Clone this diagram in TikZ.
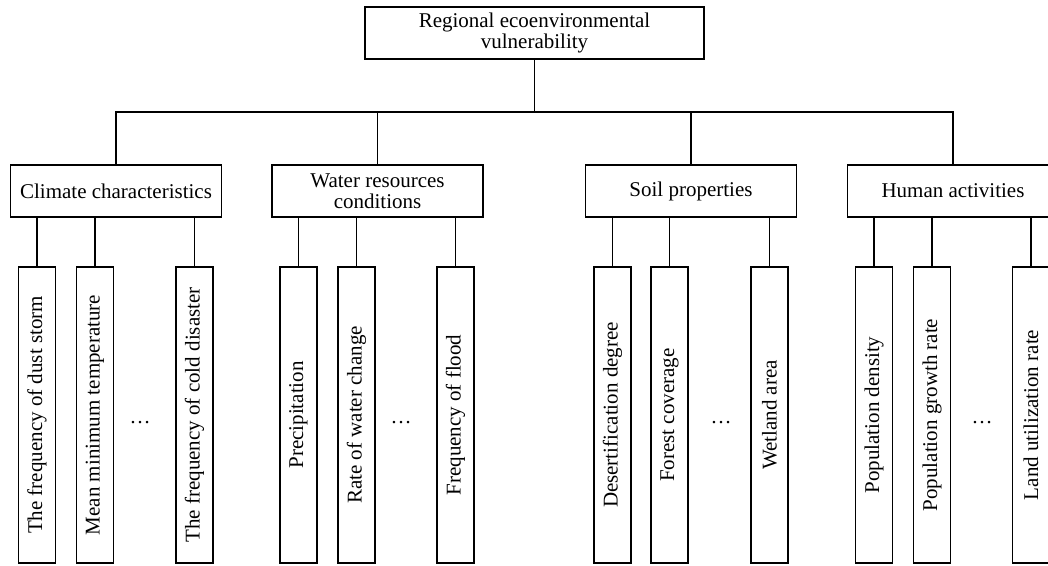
\documentclass[tikz,border=0pt]{standalone}
\usepackage{fontspec}
\setmainfont{Liberation Serif}
\usepackage{tkz-graph}

\tikzset{box/.style={draw, rectangle, line width=1.2pt, inner sep=0pt,
                     align=center, font=\fontsize{21}{21.5}\selectfont}}

\begin{document}
\begin{tikzpicture}[x=1pt,y=1pt]
 \useasboundingbox (0,0) rectangle (1048,565);
 \clip (0,0) rectangle (1048,565);
 \SetUpEdge[lw    = 1.2pt,
            color = black]
  \GraphInit[vstyle=Normal]
  \tikzset{VertexStyle/.style={box, minimum width=339pt, minimum height=52pt}}
  \Vertex[x=534.5,y=532,L={Regional ecoenvironmental\\vulnerability}]{R}
  \tikzset{VertexStyle/.style={box, minimum width=211pt, minimum height=52pt}}
  \Vertex[x=116,y=374,L={Climate characteristics}]{C}
  \Vertex[x=377.5,y=374,L={Water resources\\conditions}]{W}
  \Vertex[x=691,y=374,L={Soil properties}]{S}
  \Vertex[x=953,y=374,L={Human activities}]{H}
  % indicators, text turned upwards
  \tikzset{VertexStyle/.style={box, rotate=90, minimum width=296pt, minimum height=37pt}}
  \Vertex[x=37,y=150,L={The frequency of dust storm}]{C1}
  \Vertex[x=95,y=150,L={Mean minimum temperature}]{C2}
  \Vertex[x=194.5,y=150,L={The frequency of cold disaster}]{C3}
  \Vertex[x=298.5,y=150,L={Precipitation}]{W1}
  \Vertex[x=356.5,y=150,L={Rate of water change}]{W2}
  \Vertex[x=455.5,y=150,L={Frequency of flood}]{W3}
  \Vertex[x=612.5,y=150,L={Desertification degree}]{S1}
  \Vertex[x=669.5,y=150,L={Forest coverage}]{S2}
  \Vertex[x=769.5,y=150,L={Wetland area}]{S3}
  \Vertex[x=874,y=150,L={Population density}]{H1}
  \Vertex[x=932,y=150,L={Population growth rate}]{H2}
  \Vertex[x=1031,y=150,L={Land utilization rate}]{H3}
  \tikzset{VertexStyle/.style={font=\fontsize{21}{21.5}\selectfont}}
  \Vertex[x=140,y=142,L={\dots}]{Cd}
  \Vertex[x=401,y=142,L={\dots}]{Wd}
  \Vertex[x=721,y=142,L={\dots}]{Sd}
  \Vertex[x=982,y=142,L={\dots}]{Hd}
  \tikzset{EdgeStyle/.style={to path={(\tikztostart.south) -- ++(0,-53pt)
                                       -| (\tikztotarget.north)}}}
  \Edge(R)(C)
  \Edge(R)(W)
  \Edge(R)(S)
  \Edge(R)(H)
  \tikzset{EdgeStyle/.style={to path={(\tikztotarget.east)
                                       -- (\tikztotarget.east |- \tikztostart.south)}}}
  \Edge(C)(C1) \Edge(C)(C2) \Edge(C)(C3)
  \Edge(W)(W1) \Edge(W)(W2) \Edge(W)(W3)
  \Edge(S)(S1) \Edge(S)(S2) \Edge(S)(S3)
  \Edge(H)(H1) \Edge(H)(H2) \Edge(H)(H3)
\end{tikzpicture}
\end{document}
